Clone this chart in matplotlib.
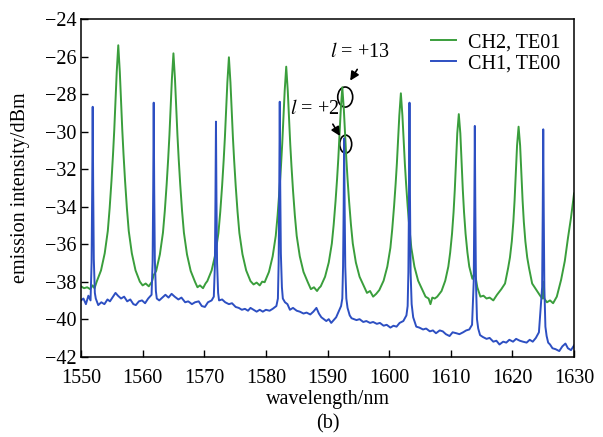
import matplotlib
matplotlib.use('Agg')
import matplotlib.pyplot as plt
from matplotlib.patches import Ellipse

plt.rcParams['font.family'] = ['Liberation Serif', 'DejaVu Serif']
plt.rcParams['mathtext.fontset'] = 'stix'
plt.rcParams['axes.unicode_minus'] = True

# CH2, TE01 (green)
green_wl = [
    1550.0, 1550.5, 1551.0, 1551.5, 1551.9, 1552.2,
    1552.55, 1553.25, 1553.85, 1554.35, 1554.65, 1554.95, 1555.2, 1555.4, 1555.6, 1555.8,
    1556.05, 1556.3, 1556.5, 1556.7, 1556.9, 1557.15, 1557.45, 1557.75, 1558.25, 1558.85, 1559.55,
    1560.0, 1560.5, 1561.0,
    1561.5, 1561.8, 1562.2, 1562.8, 1563.3, 1563.6, 1563.9, 1564.15, 1564.35, 1564.55, 1564.75,
    1565.0, 1565.25, 1565.45, 1565.65, 1565.85, 1566.1, 1566.4, 1566.7, 1567.2, 1567.8, 1568.5,
    1568.9, 1569.3, 1569.8, 1570.2,
    1570.5, 1571.2, 1571.8, 1572.3, 1572.6, 1572.9, 1573.15, 1573.35, 1573.55, 1573.75,
    1574.0, 1574.25, 1574.45, 1574.65, 1574.85, 1575.1, 1575.4, 1575.7, 1576.2, 1576.8, 1577.5,
    1578.0, 1578.5, 1579.0, 1579.4,
    1579.8, 1580.5, 1581.1, 1581.6, 1581.9, 1582.2, 1582.45, 1582.65, 1582.85, 1583.05,
    1583.3, 1583.55, 1583.75, 1583.95, 1584.15, 1584.4, 1584.7, 1585.0, 1585.5, 1586.1, 1586.8,
    1587.3, 1587.8, 1588.3, 1588.6,
    1588.9, 1589.6, 1590.2, 1590.7, 1591.0, 1591.3, 1591.55, 1591.75, 1591.95, 1592.15,
    1592.4, 1592.65, 1592.85, 1593.05, 1593.25, 1593.5, 1593.8, 1594.1, 1594.6, 1595.2, 1595.9,
    1596.4, 1596.9, 1597.4, 1597.9,
    1598.4, 1599.1, 1599.7, 1600.2, 1600.5, 1600.8, 1601.05, 1601.25, 1601.45, 1601.65,
    1601.9, 1602.15, 1602.35, 1602.55, 1602.75, 1603.0, 1603.3, 1603.6, 1604.1, 1604.7, 1605.4,
    1605.9, 1606.4, 1606.7, 1607.0, 1607.4,
    1607.8, 1608.5, 1609.1, 1609.6, 1609.9, 1610.2, 1610.45, 1610.65, 1610.85, 1611.05,
    1611.3, 1611.55, 1611.75, 1611.95, 1612.15, 1612.4, 1612.7, 1613.0, 1613.5, 1613.8,
    1613.9, 1614.0, 1614.3, 1614.8,
    1615.3, 1615.8, 1616.3, 1616.9,
    1617.5, 1618.2, 1618.8, 1619.3, 1619.6, 1619.9, 1620.15, 1620.35, 1620.55, 1620.75,
    1621.0, 1621.25, 1621.45, 1621.65, 1621.85, 1622.1, 1622.4, 1622.7, 1623.2, 1623.8, 1624.5,
    1624.85, 1625.0, 1625.15, 1625.6, 1626.1, 1626.6,
    1627.2, 1627.9, 1628.5, 1629.0, 1629.5, 1630.0,
]
green_db = [
    -38.25, -38.35, -38.3, -38.4, -38.2, -38.35,
    -38.0, -37.4, -36.49, -35.3, -34.09, -32.62, -31.2, -29.91, -28.41, -26.82,
    -25.4, -26.82, -28.41, -29.91, -31.2, -32.62, -34.09, -35.3, -36.49, -37.4, -38.0,
    -38.2, -38.1, -38.25,
    -38.01, -37.65, -37.43, -36.55, -35.39, -34.23, -32.81, -31.44, -30.19, -28.74, -27.2,
    -25.83, -27.2, -28.74, -30.19, -31.44, -32.81, -34.23, -35.39, -36.55, -37.43, -38.01,
    -38.3, -38.2, -38.35, -38.1,
    -37.97, -37.4, -36.54, -35.41, -34.27, -32.88, -31.53, -30.31, -28.88, -27.38,
    -26.04, -27.38, -28.88, -30.31, -31.53, -32.88, -34.27, -35.41, -36.54, -37.4, -37.97,
    -38.15, -38.05, -38.2, -38.0,
    -38.03, -37.48, -36.65, -35.56, -34.47, -33.13, -31.83, -30.66, -29.28, -27.83,
    -26.54, -27.83, -29.28, -30.66, -31.83, -33.13, -34.47, -35.56, -36.65, -37.48, -38.03,
    -38.4, -38.3, -38.5, -38.35,
    -38.25, -37.74, -36.98, -35.97, -34.96, -33.72, -32.53, -31.44, -30.17, -28.83,
    -27.64, -28.83, -30.17, -31.44, -32.53, -33.72, -34.96, -35.97, -36.98, -37.74, -38.25,
    -38.6, -38.5, -38.8, -38.65,
    -38.45, -37.95, -37.2, -36.2, -35.2, -33.97, -32.79, -31.72, -30.46, -29.14,
    -27.96, -29.14, -30.46, -31.72, -32.79, -33.97, -35.2, -36.2, -37.2, -37.95, -38.45,
    -38.8, -38.9, -39.2, -38.85, -38.9,
    -38.8, -38.5, -37.95, -37.2, -36.45, -35.45, -34.3, -33.1, -31.65, -30.1,
    -29.07, -30.1, -31.65, -33.1, -34.3, -35.45, -36.45, -37.2, -37.85, -37.6,
    -37.0, -37.7, -38.3, -38.8,
    -38.75, -38.9, -38.85, -39.0,
    -38.7, -38.4, -38.1, -37.28, -36.71, -35.85, -34.81, -33.67, -32.27, -30.75,
    -29.74, -30.75, -32.27, -33.67, -34.81, -35.85, -36.71, -37.28, -38.1, -38.4, -38.75,
    -38.9, -38.0, -38.9, -39.1, -39.0, -39.15,
    -38.8, -37.9, -36.9, -35.7, -34.6, -33.3,
]

# CH1, TE00 (blue)
blue_wl = [
    1550.0, 1550.4, 1550.8, 1551.2, 1551.55,
    1551.72, 1551.82, 1551.9, 1551.98, 1552.08, 1552.25,
    1552.4, 1552.8, 1553.3, 1553.8, 1554.3, 1554.7, 1555.2, 1555.6, 1556.0, 1556.5,
    1557.0, 1557.5, 1558.0, 1558.5, 1558.9, 1559.4, 1559.9, 1560.4, 1560.9, 1561.45,
    1561.62, 1561.72, 1561.8, 1561.88, 1561.98, 1562.15,
    1562.3, 1562.7, 1563.2, 1563.7, 1564.2, 1564.7, 1565.2, 1565.8, 1566.3, 1566.9,
    1567.4, 1568.0, 1568.5, 1569.1, 1569.6, 1570.1, 1570.6, 1571.2, 1571.55,
    1571.72, 1571.82, 1571.9, 1571.98, 1572.08, 1572.25,
    1572.4, 1572.9, 1573.4, 1574.0, 1574.5, 1575.1, 1575.6, 1576.1, 1576.6, 1577.1,
    1577.5, 1578.0, 1578.5, 1579.0, 1579.5, 1580.0, 1580.6, 1581.1, 1581.7, 1581.95,
    1582.07, 1582.17, 1582.25, 1582.33, 1582.43, 1582.6,
    1582.75, 1583.1, 1583.5, 1583.9, 1584.4, 1585.0, 1585.5, 1586.1, 1586.6, 1587.2,
    1587.7, 1588.2, 1588.6, 1589.0, 1589.4, 1589.8, 1590.2, 1590.6, 1591.0, 1591.4,
    1591.8, 1592.2, 1592.4,
    1592.52, 1592.62, 1592.7, 1592.78, 1592.88, 1593.05,
    1593.25, 1593.6, 1593.9, 1594.3, 1594.7, 1595.2, 1595.8, 1596.3, 1596.9, 1597.4,
    1598.0, 1598.5, 1599.1, 1599.6, 1600.2, 1600.7, 1601.2, 1601.7, 1602.3, 1602.8,
    1603.0, 1603.12, 1603.22, 1603.3, 1603.38, 1603.48, 1603.65,
    1603.9, 1604.4, 1604.9, 1605.5, 1606.0, 1606.6, 1607.1, 1607.6, 1608.2, 1608.7,
    1609.2, 1609.8, 1610.3, 1610.9, 1611.4, 1612.0, 1612.5, 1613.0, 1613.45,
    1613.72, 1613.82, 1613.9, 1613.98, 1614.08, 1614.25,
    1614.45, 1614.75, 1615.2, 1615.8, 1616.3, 1616.9, 1617.4, 1617.9, 1618.5, 1619.0,
    1619.5, 1620.1, 1620.6, 1621.2, 1621.7, 1622.3, 1622.8, 1623.3, 1623.8, 1624.3,
    1624.82, 1624.92, 1625.0, 1625.08, 1625.18, 1625.35,
    1625.55, 1625.8, 1626.1, 1626.5, 1627.0, 1627.6, 1628.1, 1628.6, 1629.0, 1629.5, 1630.0,
]
blue_db = [
    -39.0, -38.9, -39.2, -38.75, -39.0,
    -37.0, -33.0, -28.68, -33.0, -36.8, -38.6,
    -38.9, -39.25, -39.1, -39.2, -38.95, -39.05, -38.8, -38.6, -38.75, -38.9,
    -38.8, -39.05, -38.95, -39.2, -39.25, -39.05, -39.0, -39.15, -38.9, -38.7,
    -37.0, -33.0, -28.46, -33.0, -36.8, -38.5,
    -38.9, -39.0, -38.85, -38.7, -38.85, -38.65, -38.8, -38.95, -38.85, -39.1,
    -39.05, -39.2, -39.1, -39.05, -39.3, -39.35, -39.1, -39.0, -38.8,
    -37.2, -33.5, -29.47, -33.5, -37.0, -38.6,
    -39.0, -38.95, -39.1, -39.2, -39.15, -39.35, -39.4, -39.5, -39.45, -39.55,
    -39.4, -39.5, -39.6, -39.5, -39.6, -39.5, -39.55, -39.45, -39.3, -38.9,
    -37.0, -33.0, -28.41, -33.0, -36.5, -38.3,
    -38.9, -39.1, -39.2, -39.5, -39.4, -39.55, -39.6, -39.7, -39.65, -39.75,
    -39.6, -39.4, -39.7, -39.9, -40.0, -40.1, -40.0, -40.2, -40.05, -39.9,
    -39.6, -39.3, -38.9,
    -37.2, -34.0, -30.36, -34.0, -37.2, -38.9,
    -39.4, -39.8, -39.95, -40.0, -40.05, -40.0, -40.15, -40.1, -40.2, -40.15,
    -40.25, -40.2, -40.35, -40.3, -40.45, -40.35, -40.4, -40.2, -40.1, -39.8,
    -39.3, -37.5, -33.5, -28.46, -33.5, -37.5, -39.2,
    -39.9, -40.4, -40.45, -40.55, -40.5, -40.65, -40.6, -40.75, -40.6, -40.65,
    -40.8, -40.9, -40.7, -40.75, -40.8, -40.7, -40.6, -40.55, -40.3,
    -38.0, -34.0, -29.7, -34.0, -38.0, -40.0,
    -40.5, -40.85, -40.95, -41.05, -41.0, -41.2, -41.15, -41.35, -41.2, -41.25,
    -41.1, -41.2, -41.05, -41.15, -41.2, -41.25, -41.1, -41.2, -41.0, -40.7,
    -38.3, -34.2, -29.88, -34.2, -38.3, -40.4,
    -40.9, -41.25, -41.35, -41.55, -41.6, -41.7, -41.45, -41.3, -41.55, -41.65, -41.4,
]

x_ticks = [1550, 1560, 1570, 1580, 1590, 1600, 1610, 1620, 1630]
y_ticks = [-42, -40, -38, -36, -34, -32, -30, -28, -26, -24]

green = '#3a9e3c'
blue = '#2d4fc2'

fig = plt.figure(figsize=(6.03, 4.37), dpi=100)
ax = fig.add_axes([0.1343, 0.1838, 0.8177, 0.7727])

ax.plot(green_wl, green_db, color=green, lw=1.4, label='CH2, TE01')
ax.plot(blue_wl, blue_db, color=blue, lw=1.4, label='CH1, TE00')

ax.set_xlim(1550, 1630)
ax.set_ylim(-42, -24)
ax.set_xticks(x_ticks)
ax.set_yticks(y_ticks)
ax.tick_params(direction='in', length=5, width=1, labelsize=14.5, top=False, right=False)
ax.tick_params(axis='x', pad=9)
ax.tick_params(axis='y', pad=3)
for s in ax.spines.values():
    s.set_linewidth(1.1)

ax.set_xlabel('wavelength/nm', fontsize=14.5, labelpad=1)
ax.set_ylabel('emission intensity/dBm', fontsize=14.5, labelpad=11)

leg = ax.legend(loc='upper right', frameon=False, fontsize=14.5, handlelength=1.2,
                handletextpad=0.6, labelspacing=0.1, borderaxespad=0.3)

# annotations
ax.add_patch(Ellipse((1592.87, -28.16), 2.43, 1.07, fill=False, ec='black', lw=1.2))
ax.add_patch(Ellipse((1592.95, -30.67), 1.94, 0.96, fill=False, ec='black', lw=1.2))
ax.annotate('', xy=(1593.44, -27.41), xytext=(1595.06, -26.56),
            arrowprops=dict(arrowstyle='-|>', color='black', lw=1.2, mutation_scale=13))
ax.annotate('', xy=(1592.25, -30.36), xytext=(1590.63, -29.48),
            arrowprops=dict(arrowstyle='-|>', color='black', lw=1.2, mutation_scale=13))
ax.text(1595.2, -25.81, r'$l$ = +13', fontsize=14.5, ha='center', va='center')
ax.text(1587.9, -28.85, r'$l$ = +2', fontsize=14.5, ha='center', va='center')

fig.text(0.5435, 0.03, '(b)', fontsize=14.5, ha='center', va='center')

fig.savefig('out.png', dpi=100)
